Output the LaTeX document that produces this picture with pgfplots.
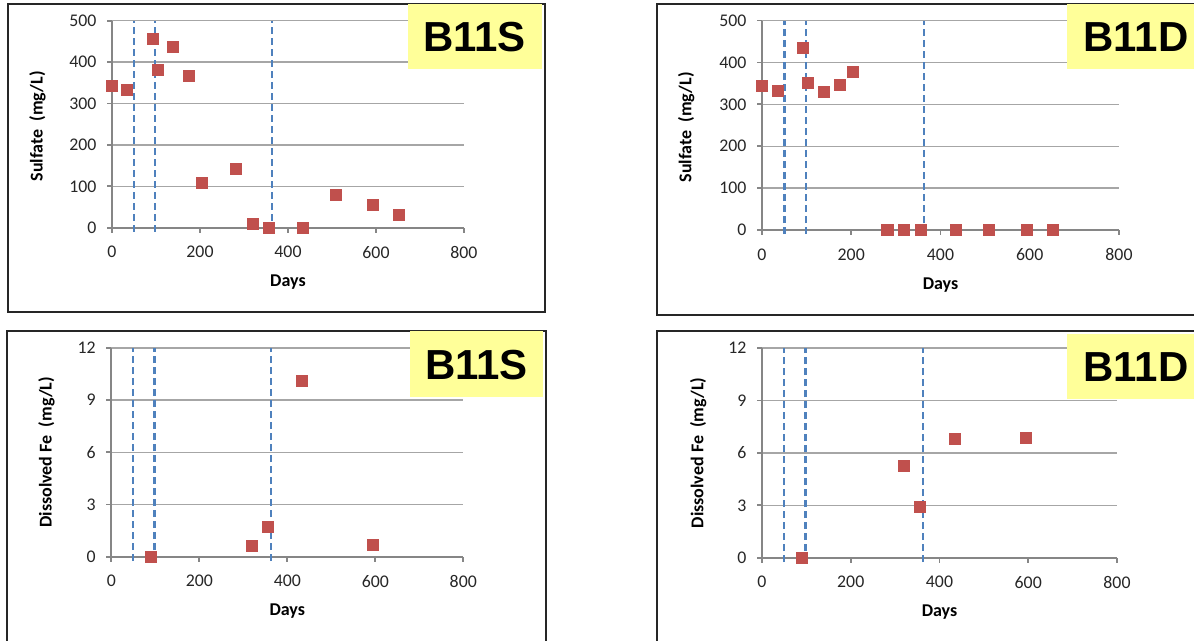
\documentclass[border=0pt]{standalone}
\usepackage{fontspec}
\setmainfont{Carlito}
\newfontfamily\tagfont{Liberation Sans}
\usepackage{pgfplots}
\pgfplotsset{compat=1.18}

\definecolor{markred}{HTML}{C0504D}
\definecolor{lineblue}{HTML}{4F81BD}
\definecolor{tagyellow}{HTML}{FFFF99}
\definecolor{axgray}{HTML}{868686}
\definecolor{gridgray}{HTML}{A6A6A6}

\pgfplotsset{
  panel/.style={
    scale only axis,
    anchor=south west,
    axis x line*=bottom, axis y line*=left,
    xmin=0, xmax=800, xtick={0,200,...,800},
    ymajorgrids,
    grid style={gridgray, line width=0.7pt},
    axis line style={axgray, line width=0.85pt, -},
    tick style={axgray, line width=0.85pt},
    tick align=outside, major tick length=2.5pt,
    tick label style={font=\fontsize{8.9}{10}\selectfont, text=black!85},
    xticklabel style={yshift=-3.3pt},
    yticklabel style={xshift=-1.8pt},
    /pgf/number format/assume math mode=true,
    label style={font=\bfseries\fontsize{9}{11}\selectfont},
    xlabel={Days},
    xlabel style={at={(axis description cs:0.5,-0.261)}, anchor=center},
    clip=false,
  },
  sulfate/.style={ymin=0, ymax=500, ytick={0,100,...,500},
    ylabel={Sulfate\ \ (mg/L)}},
  iron/.style={ymin=0, ymax=12, ytick={0,3,...,12},
    ylabel={Dissolved Fe\ \ (mg/L)}},
  obs/.style={only marks, mark=square*, mark size=2.75pt,
    mark options={fill=markred, draw=markred}},
  stage/.style={lineblue, line width=1.2pt, dash pattern=on 3.5pt off 2pt},
}

\begin{document}
\begin{tikzpicture}[x=0.5pt, y=0.5pt]
\useasboundingbox (0,0) rectangle (1194,641);
\clip (0,0) rectangle (1194,641);

% panel frames
\draw[black!85, line width=0.75pt] (8,641-4) rectangle (545,641-312);
\draw[black!85, line width=0.75pt] (657,641-4) rectangle (1210,641-315);
\draw[black!85, line width=0.75pt] (7,641-331) rectangle (546,-20);
\draw[black!85, line width=0.75pt] (657,641-331) rectangle (1210,-20);

% B11S sulfate
\begin{axis}[panel, sulfate, at={(56pt,206.65pt)}, width=176pt, height=103.5pt,
  ylabel style={at={(axis description cs:-0.212,0.49)}, anchor=center}]
  \addplot[stage] coordinates {(50,-10) (50,500)};
  \addplot[stage] coordinates {(98,-10) (98,500)};
  \addplot[stage] coordinates {(363,-10) (363,500)};
  \addplot[obs] coordinates {
    (0,342) (35,333) (92,456) (104,380) (138,436) (175,366) (204,108)
    (282,143) (320,8) (356,0) (434,0) (509,78) (594,55) (651,30)};
\end{axis}

% B11D sulfate
\begin{axis}[panel, sulfate, at={(381pt,205.5pt)}, width=178.5pt, height=104.7pt,
  ylabel style={at={(axis description cs:-0.212,0.49)}, anchor=center}]
  \addplot[stage] coordinates {(50,-10) (50,500)};
  \addplot[stage] coordinates {(98,-10) (98,500)};
  \addplot[stage] coordinates {(363,-10) (363,500)};
  \addplot[obs] coordinates {
    (0,345) (35,331) (91,434) (103,351) (138,329) (175,347) (203,378)
    (281,0) (319,0) (356,0) (434,0) (509,0) (593,0) (651,0)};
\end{axis}

% B11S dissolved iron
\begin{axis}[panel, iron, at={(55.65pt,42.15pt)}, width=176pt, height=104.4pt,
  ylabel style={at={(axis description cs:-0.184,0.5)}, anchor=center}]
  \addplot[stage] coordinates {(50,-0.25) (50,12)};
  \addplot[stage] coordinates {(98,-0.25) (98,12)};
  \addplot[stage] coordinates {(363,-0.25) (363,12)};
  \addplot[obs] coordinates {
    (91,0) (320,0.63) (355,1.74) (433,10.1) (594,0.67)};
\end{axis}

% B11D dissolved iron
\begin{axis}[panel, iron, at={(381pt,41.65pt)}, width=177.5pt, height=104.8pt,
  ylabel style={at={(axis description cs:-0.18,0.5)}, anchor=center}]
  \addplot[stage] coordinates {(50,-0.25) (50,12)};
  \addplot[stage] coordinates {(98,-0.25) (98,12)};
  \addplot[stage] coordinates {(363,-0.25) (363,12)};
  \addplot[obs] coordinates {
    (91,0) (319,5.27) (355,2.92) (434,6.79) (594,6.85)};
\end{axis}

% well tags
\fill[tagyellow] (408,641-4) rectangle (542,641-69);
\fill[tagyellow] (1067,641-4) rectangle (1200,641-69);
\fill[tagyellow] (410,641-331) rectangle (543,641-397);
\fill[tagyellow] (1067,641-334) rectangle (1200,641-399);
\begin{scope}[every node/.style={font=\tagfont\bfseries\fontsize{21}{24}\selectfont, inner sep=0pt, anchor=center}]
  \node at (474.5,641-37.5) {B11S};
  \node at (1136,641-37.5) {B11D};
  \node at (476.5,641-364.7) {B11S};
  \node at (1136,641-367.5) {B11D};
\end{scope}
\end{tikzpicture}
\end{document}
